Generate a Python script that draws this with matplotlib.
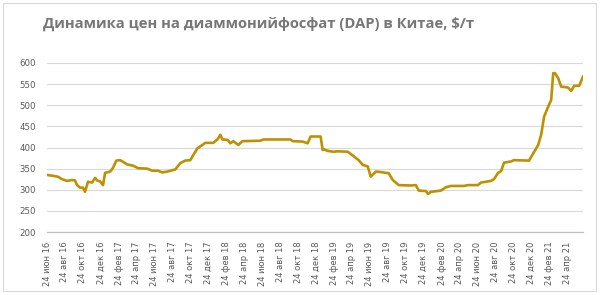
import numpy as np
import pandas as pd
import matplotlib
matplotlib.use("Agg")
import matplotlib.pyplot as plt

# данные: дата и цена DAP, $/т
dates = [
    "2016-06-24", "2016-07-14", "2016-07-31", "2016-08-14", "2016-08-31", "2016-09-17",
    "2016-09-27", "2016-10-04", "2016-10-14", "2016-10-24", "2016-10-31", "2016-11-10",
    "2016-11-24", "2016-12-04", "2016-12-11", "2016-12-21", "2016-12-31", "2017-01-07",
    "2017-01-24", "2017-02-03", "2017-02-14", "2017-02-27", "2017-03-09", "2017-03-23",
    "2017-04-12", "2017-04-29", "2017-05-30", "2017-06-16", "2017-07-06", "2017-07-20",
    "2017-08-06", "2017-09-02", "2017-09-19", "2017-10-06", "2017-10-23", "2017-11-02",
    "2017-11-16", "2017-12-03", "2017-12-13", "2018-01-09", "2018-01-23", "2018-02-02",
    "2018-02-09", "2018-02-26", "2018-03-08", "2018-03-18", "2018-04-04", "2018-04-18",
    "2018-06-18", "2018-06-28", "2018-09-28", "2018-10-05", "2018-11-08", "2018-11-25",
    "2018-12-05", "2019-01-08", "2019-01-15", "2019-01-18", "2019-02-01", "2019-02-21",
    "2019-03-07", "2019-04-10", "2019-04-27", "2019-05-17", "2019-05-31", "2019-06-17",
    "2019-06-27", "2019-07-14", "2019-07-31", "2019-08-27", "2019-09-10", "2019-09-30",
    "2019-11-10", "2019-11-27", "2019-12-07", "2019-12-31", "2020-01-07", "2020-01-17",
    "2020-02-20", "2020-03-08", "2020-03-25", "2020-05-08", "2020-05-22", "2020-06-25",
    "2020-07-05", "2020-08-08", "2020-08-18", "2020-09-01", "2020-09-11", "2020-09-21",
    "2020-10-15", "2020-10-25", "2020-12-15", "2020-12-29", "2021-01-15", "2021-01-25",
    "2021-02-04", "2021-02-18", "2021-02-28", "2021-03-07", "2021-03-13", "2021-03-24",
    "2021-04-03", "2021-04-26", "2021-05-07", "2021-05-17", "2021-06-03", "2021-06-16",
]
prices = [
    335, 333, 331, 325, 321, 323,
    322, 311, 305, 305, 295, 319,
    317, 328, 322, 320, 311, 340,
    343, 352, 369, 370, 366, 360,
    357, 351, 350, 345, 345, 341,
    343, 348, 363, 369, 370, 382,
    398, 406, 411, 411, 419, 430,
    419, 418, 410, 415, 406, 415,
    416, 419, 419, 415, 414, 410,
    426, 426, 394, 396, 392, 390,
    391, 390, 381, 370, 359, 355,
    331, 343, 342, 339, 323, 311,
    310, 311, 298, 297, 290, 295,
    298, 306, 309, 309, 311, 311,
    317, 321, 325, 340, 344, 364,
    367, 370, 369, 386, 406, 430,
    473, 497, 512, 576, 576, 564,
    544, 542, 534, 546, 546, 568,
]

months_ru = ["янв", "фев", "мар", "апр", "май", "июн",
             "июл", "авг", "сен", "окт", "ноя", "дек"]
tick_dates = pd.date_range("2016-06-01", "2021-04-01", freq="2MS") + pd.Timedelta(days=23)
tick_labels = [f"24 {months_ru[d.month - 1]} {d.year % 100}" for d in tick_dates]

x = pd.to_datetime(dates)

fig = plt.figure(figsize=(6, 2.95), dpi=100)
ax = fig.add_axes([47 / 600, 1 - 232 / 295, (583 - 47) / 600, (232 - 63) / 295])

ax.plot(x, prices, color="#bf9000", lw=1.9, solid_joinstyle="round")

ax.set_ylim(200, 600)
ax.set_yticks(np.arange(200, 601, 50))
ax.set_xlim(x[0], x[-1])
ax.set_xticks(tick_dates)
ax.set_xticklabels(tick_labels, rotation=90)
ax.tick_params(axis="both", length=0, labelsize=6.2, labelcolor="#595959")
ax.tick_params(axis="x", labelsize=6.0, pad=7)
ax.tick_params(axis="y", pad=8)

ax.grid(axis="y", color="#d9d9d9", lw=0.8)
ax.set_axisbelow(True)
for s in ["top", "right", "left"]:
    ax.spines[s].set_visible(False)
ax.spines["bottom"].set_color("#bfbfbf")
ax.spines["bottom"].set_linewidth(0.9)

fig.text(43 / 600, 1 - 24 / 295, "Динамика цен на диаммонийфосфат (DAP) в Китае, $/т",
         fontsize=10.6, fontweight="bold", color="#777777", family="Open Sans",
         va="center", ha="left")

# рамка области диаграммы
fig.patches.append(plt.Rectangle((3 / 600, 1 - 291 / 295), 593 / 600, 288 / 295,
                                 transform=fig.transFigure, fill=False,
                                 edgecolor="#d9d9d9", lw=0.8))

plt.savefig("out.png", dpi=100)
